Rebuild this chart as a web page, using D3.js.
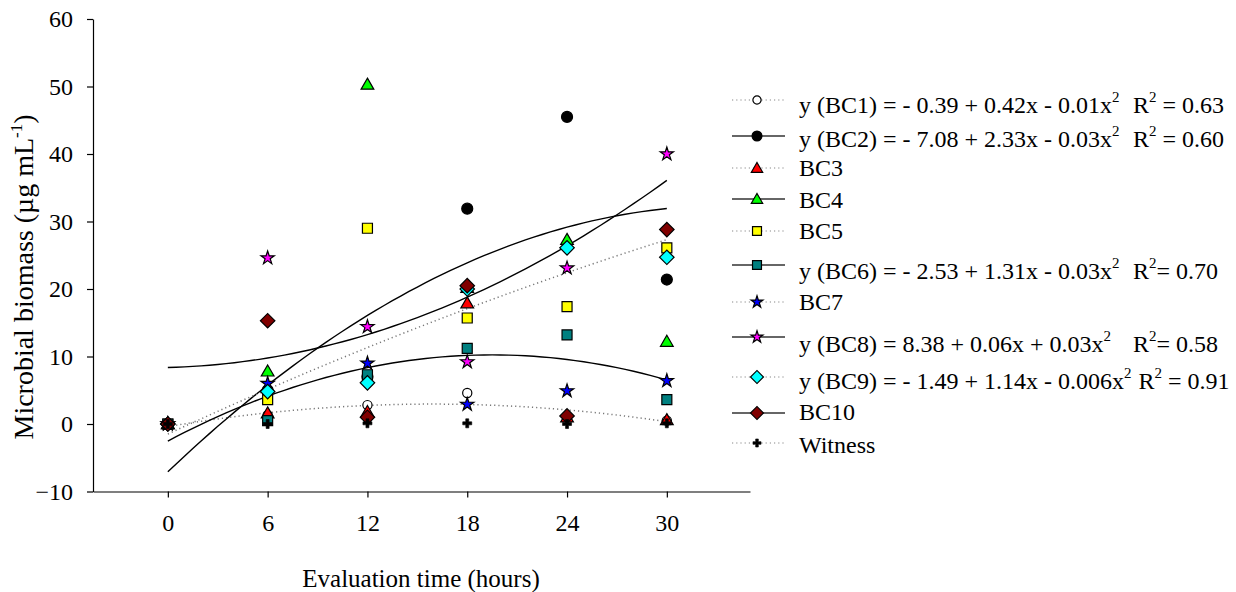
<!DOCTYPE html>
<html lang="en">
<head>
<meta charset="UTF-8"/>
<title>Microbial biomass</title>
<script src="https://d3js.org/d3.v7.min.js"></script>
<style>
  body { margin: 0; background: #fff; }
  svg text { font-family: "Liberation Serif", "DejaVu Serif", "Times New Roman", Times, serif; fill: #000; }
</style>
</head>
<body>
<script>
var w = 1236;
var h = 592;
var serif = "'Liberation Serif', 'DejaVu Serif', 'Times New Roman', serif";

// evaluation times (hours)
var times = [0, 6, 12, 18, 24, 30];
var xTicks = [0, 6, 12, 18, 24, 30];
var yTicks = [-10, 0, 10, 20, 30, 40, 50, 60];

// series names and mean values at each time
var names = ["BC1", "BC2", "BC3", "BC4", "BC5", "BC6", "BC7", "BC8", "BC9", "BC10", "Witness"];
var bc1 = [0, 1.3, 2.8, 4.6, 1.0, 0.5];
var bc2 = [0, 5.0, 7.0, 31.9, 45.5, 21.4];
var bc3 = [0, 1.6, 1.8, 17.9, 1.0, 0.6];
var bc4 = [0, 7.8, 50.3, 20.2, 27.3, 12.2];
var bc5 = [0, 3.6, 29.0, 15.7, 17.4, 26.1];
var bc6 = [0, 0.5, 7.3, 11.2, 13.2, 3.6];
var bc7 = [0, 6.0, 9.0, 2.9, 4.9, 6.4];
var bc8 = [0, 24.6, 14.4, 9.2, 23.1, 40.0];
var bc9 = [0, 4.8, 6.1, 20.0, 26.1, 24.7];
var bc10 = [0, 15.3, 1.0, 20.5, 1.2, 28.8];
var witness = [0, 0, 0.1, 0.1, 0, 0.1];
var values = [bc1, bc2, bc3, bc4, bc5, bc6, bc7, bc8, bc9, bc10, witness];

// quadratic fits (a + b x + c x^2) as drawn
var fitSeries = ["BC1", "BC2", "BC6", "BC8", "BC9"];
var fitCoefs = [
  [-0.39, 0.42, -0.0132],
  [-7.08, 2.35, -0.035],
  [-2.53, 1.31, -0.0336],
  [8.38, 0.06, 0.0288],
  [-1.49, 1.14, -0.006]
];
var fitDotted = [true, false, false, false, true];

// legend equations: [equation text, R2 text]
var legendEq = {
  "BC1": ["y (BC1) = - 0.39 + 0.42x - 0.01x", " = 0.63"],
  "BC2": ["y (BC2) = - 7.08 + 2.33x - 0.03x", " = 0.60"],
  "BC6": ["y (BC6) = - 2.53 + 1.31x - 0.03x", "= 0.70"],
  "BC8": ["y (BC8) = 8.38 + 0.06x + 0.03x", "= 0.58"],
  "BC9": ["y (BC9) = - 1.49 + 1.14x - 0.006x", " = 0.91"]
};

// marker style per series
var shapes = ["circle", "circle", "triangle", "triangle", "square", "square", "star", "star", "diamond", "diamond", "cross"];
var fills = ["#ffffff", "#000000", "#ff0000", "#00ff00", "#ffff00", "#008080", "#0000ff", "#ff00ff", "#00ffff", "#800000", "#000000"];
var dotted = [true, false, true, false, true, false, true, false, true, false, true];

var svg = d3.select("body").append("svg")
  .attr("width", w)
  .attr("height", h)
  .attr("font-family", serif);

var xScale = d3.scaleLinear().domain([-4.5, 35]).range([93, 750]);
var yScale = d3.scaleLinear().domain([-10, 60]).range([491.5, 19]);

// axes
var xAxis = d3.axisBottom(xScale).tickValues(xTicks).tickSize(6).tickSizeOuter(0).tickPadding(16);
var yAxis = d3.axisLeft(yScale).tickValues(yTicks).tickSize(6).tickSizeOuter(0).tickPadding(14);

var gx = svg.append("g").attr("transform", "translate(0," + yScale(-10) + ")").call(xAxis);
var gy = svg.append("g").attr("transform", "translate(" + xScale(-4.5) + ",0)").call(yAxis);
[gx, gy].forEach(function(g) {
  g.attr("font-family", serif).attr("font-size", 24);
  g.selectAll("text").attr("fill", "#000");
  g.selectAll("path,line").attr("stroke", "#000").attr("stroke-width", 1.2);
});

// axis titles
svg.append("text")
  .attr("x", 421).attr("y", 587)
  .attr("text-anchor", "middle")
  .attr("font-size", 25)
  .text("Evaluation time (hours)");

var yt = svg.append("text")
  .attr("transform", "translate(33,277) rotate(-90)")
  .attr("text-anchor", "middle")
  .attr("font-size", 28);
yt.append("tspan").text("Microbial biomass (\u00b5g mL");
yt.append("tspan").attr("dy", -11).attr("font-size", 17).text("-1");
yt.append("tspan").attr("dy", 11).text(")");

// fitted curves
var line = d3.line()
  .x(function(d) { return xScale(d[0]); })
  .y(function(d) { return yScale(d[1]); });

fitCoefs.forEach(function(c, i) {
  var pts = d3.range(0, 30.01, 0.5).map(function(t) {
    return [t, c[0] + c[1] * t + c[2] * t * t];
  });
  svg.append("path")
    .attr("d", line(pts))
    .attr("fill", "none")
    .attr("stroke", fitDotted[i] ? "#777" : "#000")
    .attr("stroke-width", fitDotted[i] ? 1.5 : 1.4)
    .attr("stroke-dasharray", fitDotted[i] ? "1.2,3" : null);
});

// marker path generator
function markerPath(shape, k) {
  if (shape === "circle") return d3.symbol(d3.symbolCircle, 95 * k)();
  if (shape === "triangle") return d3.symbol(d3.symbolTriangle, 70 * k)();
  if (shape === "square") return d3.symbol(d3.symbolSquare, 100 * k)();
  if (shape === "star") return d3.symbol(d3.symbolStar, 55 * k)();
  if (shape === "diamond") return d3.symbol(d3.symbolSquare, 105 * k)();
  if (shape === "cross") return d3.symbol(d3.symbolCross, 45 * k)();
}

function drawMarker(g, i, x, y, k) {
  var s = shapes[i];
  var size = i === 0 ? 0.7 * k : k;
  g.append("path")
    .attr("d", markerPath(s, size))
    .attr("fill", fills[i])
    .attr("stroke", "#000")
    .attr("stroke-width", i === 10 ? 0.6 : 1.2)
    .attr("transform", "translate(" + x + "," + (s === "triangle" ? y + 1 : y) + ")" + (s === "diamond" ? " rotate(45)" : ""));
}

// data markers
var marks = svg.append("g");
values.forEach(function(vals, i) {
  vals.forEach(function(v, j) {
    drawMarker(marks, i, xScale(times[j]), yScale(v), 1);
  });
});

// legend
var legRowY = [100, 136, 168, 199, 231, 265, 302, 337, 377, 413, 443];
var legBase = [113, 147, 176, 208, 239, 279, 310, 352, 389, 420, 453];
var legend = svg.append("g");
names.forEach(function(n, i) {
  var y = legRowY[i];
  legend.append("line")
    .attr("x1", 732).attr("x2", 785)
    .attr("y1", y).attr("y2", y)
    .attr("stroke", dotted[i] ? "#888" : "#333")
    .attr("stroke-width", dotted[i] ? 1.2 : 1.6)
    .attr("stroke-dasharray", dotted[i] ? "1.2,3" : null);
  drawMarker(legend, i, 757, y, 0.8);

  var t = legend.append("text")
    .attr("x", 799).attr("y", legBase[i])
    .attr("font-size", 24);
  var eq = legendEq[n];
  if (eq) {
    var main = t.append("tspan").text(eq[0]);
    var sq = t.append("tspan").attr("dy", -11).attr("font-size", 15).text("2");
    var eqEnd = 799 + main.node().getComputedTextLength() + sq.node().getComputedTextLength();
    t.append("tspan").attr("x", Math.max(1133, eqEnd + 7)).attr("dy", 11).text("R");
    t.append("tspan").attr("dy", -11).attr("font-size", 15).text("2");
    t.append("tspan").attr("dy", 11).text(eq[1]);
  } else {
    t.text(n);
  }
});
</script>
</body>
</html>
